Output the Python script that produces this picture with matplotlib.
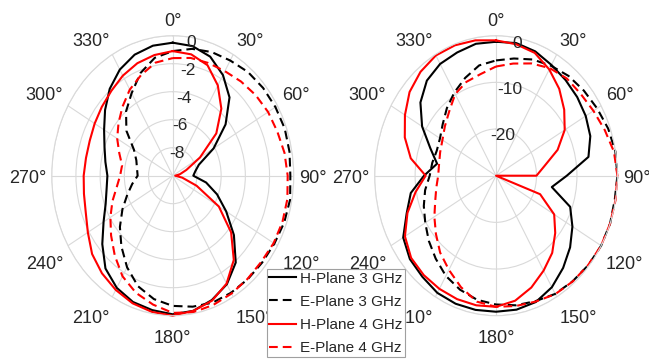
import numpy as np
import matplotlib
matplotlib.use("Agg")
import matplotlib.pyplot as plt

plt.rcParams['font.family'] = ['Liberation Sans', 'DejaVu Sans']
plt.rcParams['axes.unicode_minus'] = False

# angles (degrees, clockwise from top)
angles_deg = [0, 10, 20, 30, 40, 50, 60, 70, 80, 90, 100, 110,
              120, 130, 140, 150, 160, 170, 180, 190, 200, 210, 220, 230,
              240, 250, 260, 270, 280, 290, 300, 310, 320, 330, 340, 350]

# ---- left panel (dB, range -10..0)
left_h3 = [-0.5, -0.6, -0.95, -1.7, -2.7, -4.3, -6.1, -7.7, -8.1, -8.3, -7.2, -6.1,
           -4.9, -3.4, -1.9, -1.05, -0.55, -0.2, -0.1, -0.25, -0.4, -0.75, -1.35, -2.4,
           -3.4, -4.1, -4.45, -4.6, -4.35, -4.0, -3.45, -2.7, -1.9, -1.25, -0.8, -0.57]
left_e3 = [-1.1, -0.8, -0.6, -0.5, -0.33, -0.25, -0.2, -0.15, -0.2, -0.28, -0.15, -0.2,
           -0.3, -0.35, -0.35, -0.35, -0.35, -0.5, -0.7, -1.05, -1.6, -2.45, -3.4, -4.3,
           -5.2, -6.0, -6.6, -7.1, -7.0, -6.8, -6.3, -5.0, -4.0, -3.2, -2.2, -1.45]
left_h4 = [-1.1, -1.2, -1.6, -2.55, -3.75, -5.3, -7.4, -8.8, -9.4, -9.8, -9.2, -7.9,
           -5.6, -3.7, -2.15, -1.1, -0.5, -0.2, 0.0, -0.12, -0.3, -0.58, -0.9, -1.3,
           -1.9, -2.35, -2.55, -2.64, -2.72, -2.7, -2.55, -2.35, -2.1, -1.75, -1.45, -1.25]
left_e4 = [-1.6, -1.46, -1.43, -1.38, -1.22, -1.05, -0.9, -0.8, -0.62, -0.5, -0.38, -0.35,
           -0.37, -0.44, -0.38, -0.28, -0.18, -0.1, -0.2, -0.65, -1.1, -1.7, -2.55, -3.35,
           -4.05, -4.7, -5.3, -5.65, -5.75, -5.3, -4.7, -4.15, -3.55, -2.9, -2.35, -1.8]

# ---- right panel (dB, range -30..0)
right_h3 = [-1.3, -1.15, -1.65, -2.6, -3.25, -3.8, -4.4, -5.2, -6.8, -12.5, -16.0, -10.5,
            -8.2, -6.1, -4.2, -2.4, -1.2, -0.85, -0.85, -0.8, -0.8, -1.0, -1.7, -2.2,
            -3.5, -6.5, -8.6, -12.2, -15.2, -12.7, -8.9, -5.6, -3.4, -2.35, -1.9, -1.3]
right_e3 = [-5.3, -4.5, -3.5, -2.8, -2.1, -1.65, -1.15, -0.5, -0.05, 0.0, -0.2, 0.0,
            0.0, -0.2, -0.5, -0.75, -1.4, -1.8, -2.4, -3.0, -4.0, -5.2, -6.8, -8.3,
            -9.8, -11.0, -12.2, -13.6, -14.0, -14.4, -14.0, -12.8, -11.1, -9.4, -7.7, -6.0]
right_h4 = [-1.0, -1.4, -2.0, -3.7, -5.7, -8.0, -10.4, -13.8, -17.8, -20.0, -30.0, -18.4,
            -13.4, -10.9, -8.4, -6.5, -4.5, -2.8, -1.9, -1.8, -1.85, -2.0, -2.2, -2.6,
            -4.0, -6.7, -9.8, -12.6, -8.6, -6.0, -4.0, -2.1, -0.95, -0.25, -0.27, -0.55]
right_e4 = [-6.6, -5.6, -4.4, -3.4, -2.8, -2.7, -2.2, -1.4, -0.4, 0.0, 0.0, 0.0,
            0.0, -0.25, -0.45, -0.7, -1.3, -1.65, -1.9, -2.6, -4.6, -6.7, -8.5, -10.6,
            -12.4, -14.0, -15.0, -15.7, -15.7, -15.3, -14.7, -13.5, -12.0, -9.8, -8.6, -7.9]

series_labels = ["H-Plane 3 GHz", "E-Plane 3 GHz", "H-Plane 4 GHz", "E-Plane 4 GHz"]
theta_ticks = [0, 30, 60, 90, 120, 150, 180, 210, 240, 270, 300, 330]
left_ticks = [-8, -6, -4, -2, 0]
right_ticks = [-20, -10, 0]

TEXT = '#262626'
GRID = '#d9d9d9'

fig = plt.figure(figsize=(6.49, 3.62), dpi=100)
axL = fig.add_axes([0.0797, 0.1279, 0.3729, 0.7735], projection='polar')
axR = fig.add_axes([0.5773, 0.1279, 0.374, 0.7735], projection='polar')

styles = [dict(color='black', ls='-'),
          dict(color='black', ls=(0, (4.2, 2.4))),
          dict(color='red', ls='-'),
          dict(color='red', ls=(0, (4.2, 2.4)))]

th = np.deg2rad(angles_deg + [angles_deg[0]])
PX = 0.72  # points per pixel at 100 dpi


def setup(ax, rmin, ticks, data, rlab_angle):
    ax.set_theta_zero_location('N')
    ax.set_theta_direction(-1)
    handles = []
    for vals, st, lab in zip(data, styles, series_labels):
        h, = ax.plot(th, vals + [vals[0]], lw=1.5, label=lab, clip_on=False, **st)
        handles.append(h)
    ax.set_ylim(rmin, 0)
    ax.set_rticks(ticks)
    ax.set_yticklabels([])
    ax.set_thetagrids(theta_ticks, labels=[])
    ax.grid(True, color=GRID, lw=0.8)
    ax.spines['polar'].set_color(GRID)
    ax.spines['polar'].set_linewidth(0.8)
    ax.set_aspect('auto')
    # angular labels
    gx, gy = 5.5, 8.0
    for a in theta_ticks:
        s, c = np.sin(np.deg2rad(a)), np.cos(np.deg2rad(a))
        ha = 'left' if s > 0.01 else ('right' if s < -0.01 else 'center')
        va = 'bottom' if c > 0.01 else ('top' if c < -0.01 else 'center')
        ysh = -2.8 if c > -0.01 else -6.0
        ax.annotate(f'{a}°', xy=(np.deg2rad(a), 0), xycoords='data',
                    xytext=(s * gx * PX, (c * gy + ysh) * PX), textcoords='offset points',
                    ha=ha, va=va, fontsize=13, color=TEXT, annotation_clip=False)
    # radial labels
    for t in ticks:
        ax.annotate(str(t), xy=(np.deg2rad(rlab_angle), t), xycoords='data',
                    xytext=(0, -5.5 * PX), textcoords='offset points',
                    ha='center', va='center', fontsize=12.5, color=TEXT,
                    annotation_clip=False, zorder=5)
    return handles


hL = setup(axL, -10, left_ticks, [left_h3, left_e3, left_h4, left_e4], 9)
setup(axR, -30, right_ticks, [right_h3, right_e3, right_h4, right_e4], 10)

leg = fig.legend(handles=hL, labels=series_labels, loc='upper left',
                 bbox_to_anchor=(266.7 / 649, 1 - 269.3 / 362),
                 bbox_transform=fig.transFigure, fontsize=11,
                 frameon=True, fancybox=False, framealpha=1,
                 edgecolor='#a0a0a0', borderpad=0.15, borderaxespad=0,
                 handlelength=1.8, handletextpad=0.25, labelspacing=0.6)
leg.get_frame().set_linewidth(0.8)
leg.set_zorder(10)
for t in leg.get_texts():
    t.set_color(TEXT)

fig.savefig('out.png', dpi=100)
